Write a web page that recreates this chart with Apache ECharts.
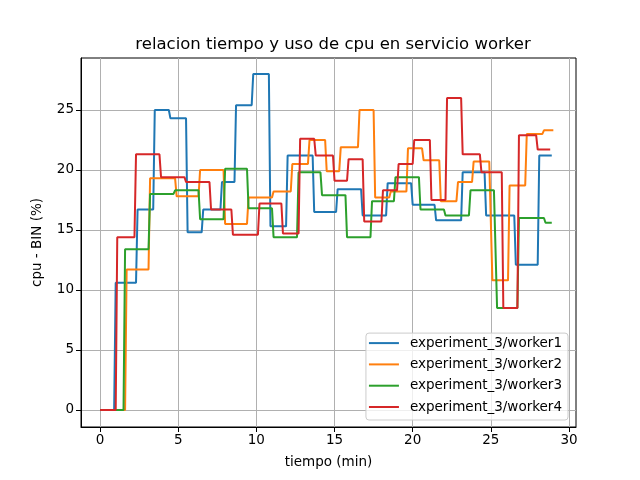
<!DOCTYPE html>
<html>
<head>
<meta charset="utf-8">
<script src="https://cdn.jsdelivr.net/npm/echarts@6/dist/echarts.min.js"></script>
<style>html,body{margin:0;padding:0;background:#fff}#c{width:640px;height:480px}</style>
</head>
<body>
<div id="c"></div>
<script>
var seriesNames = ['experiment_3/worker1','experiment_3/worker2','experiment_3/worker3','experiment_3/worker4'];
var colors = ['#1f77b4','#ff7f0e','#2ca02c','#d62728'];
var xTicks = [0,5,10,15,20,25,30];
var yTicks = [0,5,10,15,20,25];

// plateaus: start time, end time, value
var w1Start = [0,1.0,2.4,3.5,4.5,5.6,6.6,7.8,8.7,9.8,10.9,12.0,13.7,15.2,16.8,18.4,20.0,21.5,23.2,24.7,26.6,28.1];
var w1End   = [0.9,2.3,3.4,4.4,5.5,6.5,7.7,8.6,9.7,10.8,11.9,13.6,15.1,16.7,18.3,19.9,21.4,23.1,24.6,26.5,28.0,28.9];
var w1Val   = [0,10.6,16.7,25.0,24.3,14.8,16.7,19.0,25.4,28.0,15.3,21.2,16.5,18.4,16.2,18.9,17.1,15.8,19.8,16.2,12.1,21.2];

var w2Start = [0,1.7,3.2,4.9,6.4,8.0,9.5,11.1,12.3,13.4,14.5,15.4,16.6,17.6,18.6,19.7,20.7,21.8,22.9,23.9,25.1,26.2,27.3,28.4];
var w2End   = [1.6,3.1,4.8,6.3,7.9,9.4,11.0,12.2,13.3,14.4,15.3,16.5,17.5,18.5,19.6,20.6,21.7,22.8,23.8,24.9,26.1,27.2,28.3,29.0];
var w2Val   = [0,11.7,19.3,17.8,20.0,15.5,17.7,18.2,20.5,22.5,19.9,21.9,25.0,17.7,18.2,21.8,20.8,17.4,19.0,20.7,10.8,18.7,23.0,23.3];

var w3Start = [0,1.6,3.2,4.8,6.4,8.0,9.5,11.1,12.7,14.2,15.8,17.4,18.9,20.5,22.1,23.7,25.4,26.8,28.5];
var w3End   = [1.5,3.1,4.7,6.3,7.9,9.4,11.0,12.6,14.1,15.7,17.3,18.8,20.4,22.0,23.6,25.2,26.7,28.4,28.9];
var w3Val   = [0,13.4,18.0,18.3,15.9,20.1,16.8,14.4,19.8,17.9,14.4,17.4,19.4,16.7,16.2,18.3,8.5,16.0,15.6];

var w4Start = [0,1.1,2.3,3.9,5.5,7.1,8.5,10.2,11.7,12.8,13.8,15.0,15.9,16.9,18.1,19.1,20.1,21.2,22.2,23.2,24.4,25.8,26.8,28.0];
var w4End   = [1.0,2.2,3.8,5.4,7.0,8.4,10.1,11.6,12.7,13.7,14.9,15.8,16.8,18.0,19.0,20.0,21.1,22.1,23.1,24.3,25.7,26.7,27.9,28.8];
var w4Val   = [0,14.4,21.3,19.4,19.0,16.7,14.6,17.2,14.7,22.6,21.2,19.1,20.9,15.7,18.3,20.5,22.5,17.5,26.0,21.3,19.8,8.5,22.9,21.7];

function build(s, e, v) {
  var out = [];
  for (var i = 0; i < v.length; i++) { out.push([s[i], v[i]]); out.push([e[i], v[i]]); }
  return out;
}
var allData = [build(w1Start,w1End,w1Val), build(w2Start,w2End,w2Val), build(w3Start,w3End,w3Val), build(w4Start,w4End,w4Val)];

var font = 'DejaVu Sans';
var chart = echarts.init(document.getElementById('c'), null, {renderer:'canvas'});
chart.setOption({
  animation: false,
  backgroundColor: '#fff',
  title: {
    text: 'relacion tiempo y uso de cpu en servicio worker',
    left: 328, top: 31, textAlign: 'center',
    textStyle: {fontFamily: font, fontSize: 16.5, fontWeight: 'normal', color: '#000'}
  },
  grid: {left: 81, right: 64, top: 58, bottom: 53, show: true, borderColor: '#000', borderWidth: 1, backgroundColor: 'transparent'},
  xAxis: {
    type: 'value', min: -1.22, max: 30.45,
    name: 'tiempo (min)', nameLocation: 'middle', nameGap: 28,
    nameTextStyle: {fontFamily: font, fontSize: 13.5, color: '#000'},
    axisLine: {show: true, onZero: false, lineStyle: {color: '#000', width: 1}},
    axisTick: {show: true, inside: false, length: 5, lineStyle: {color: '#000'}, customValues: xTicks},
    axisLabel: {fontFamily: font, fontSize: 13.5, color: '#000', margin: 6, customValues: xTicks},
    splitLine: {show: true, lineStyle: {color: '#b0b0b0', width: 1}}
  },
  yAxis: {
    type: 'value', min: -1.42, max: 29.33,
    name: 'cpu - BIN (%)', nameLocation: 'middle', nameGap: 37,
    nameTextStyle: {fontFamily: font, fontSize: 13.5, color: '#000'},
    axisLine: {show: true, onZero: false, lineStyle: {color: '#000', width: 1}},
    axisTick: {show: true, inside: false, length: 5, lineStyle: {color: '#000'}, customValues: yTicks},
    axisLabel: {fontFamily: font, fontSize: 13.5, color: '#000', margin: 7, customValues: yTicks},
    splitLine: {show: true, lineStyle: {color: '#b0b0b0', width: 1}}
  },
  legend: {
    orient: 'vertical', right: 72, bottom: 60,
    data: seriesNames,
    icon: 'rect', itemWidth: 30, itemHeight: 2, itemGap: 7.3,
    padding: [3, 6, 6, 3],
    backgroundColor: 'rgba(255,255,255,0.8)', borderColor: '#cccccc', borderWidth: 1, borderRadius: 3,
    textStyle: {fontFamily: font, fontSize: 13.5, color: '#000', lineHeight: 14, padding: [0, 0, 0, 6]}
  },
  series: seriesNames.map(function(n, i) {
    return {
      name: n, type: 'line', data: allData[i], showSymbol: false, symbol: 'none',
      color: colors[i], lineStyle: {width: 2, color: colors[i]}, z: 2 + i
    };
  })
});
</script>
</body>
</html>
